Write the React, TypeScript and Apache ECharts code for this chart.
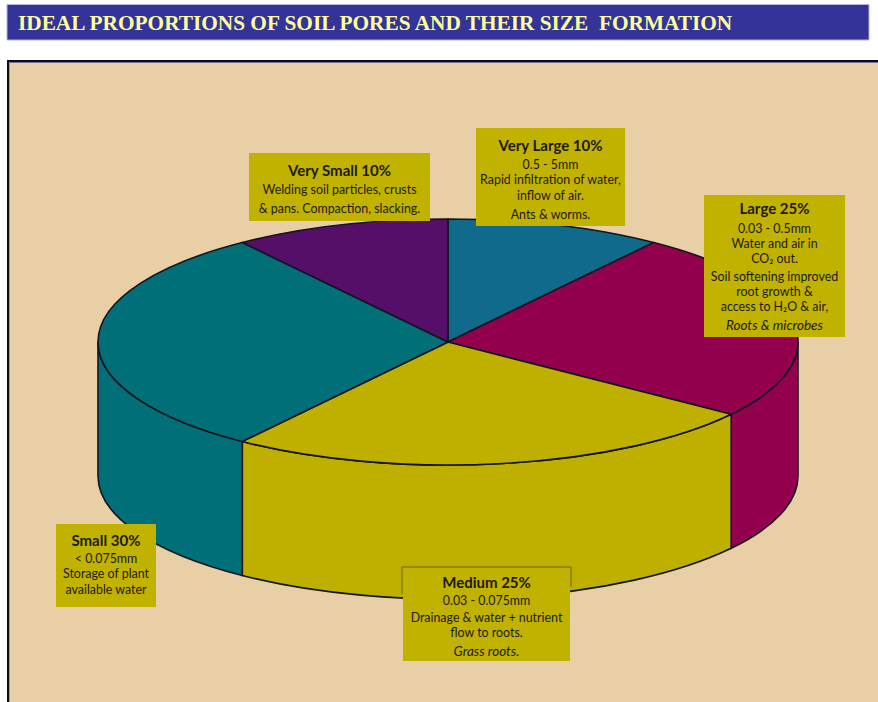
import React, { useEffect, useRef } from "react";
import * as echarts from "echarts";

const titleText = "IDEAL PROPORTIONS OF SOIL PORES AND THEIR SIZE  FORMATION";
const categories = ["Very Large", "Large", "Medium", "Small", "Very Small"];
const poreShares = [10, 25, 25, 30, 10];
const sliceColors = ["#0f6a8b", "#92004e", "#bfb000", "#006f78", "#560f68"];

const veryLargeLines = ["Very Large 10%", "0.5 - 5mm", "Rapid infiltration of water,", "inflow of air.", "Ants & worms."];
const largeLines = ["Large 25%", "0.03 - 0.5mm", "Water and air in", "CO₂ out.", "Soil softening improved", "root growth &", "access to H₂O & air,", "Roots & microbes"];
const mediumLines = ["Medium 25%", "0.03 - 0.075mm", "Drainage & water + nutrient", "flow to roots.", "Grass roots."];
const smallLines = ["Small 30%", "< 0.075mm", "Storage of plant", "available water"];
const verySmallLines = ["Very Small 10%", "Welding soil particles, crusts", "& pans. Compaction, slacking."];

const CX = 448, CY = 342, RX = 350, RY = 123, DEPTH = 134;
const FONT = "Lato, 'Open Sans', sans-serif";
const BOX = "#c2b200", INK = "#1a1a10", EDGE = "#14141e";

const total = poreShares.reduce((a, b) => a + b, 0);
const pt = (deg: number, dy = 0) => {
  const r = (deg * Math.PI) / 180;
  return [CX + RX * Math.sin(r), CY - RY * Math.cos(r) + dy];
};

const renderSlice = (params: any, api: any) => {
  const i = params.dataIndex;
  const share = api.value(0);
  const before = poreShares.slice(0, i).reduce((a, b) => a + b, 0);
  const a0 = (before / total) * 360;
  const a1 = a0 + (share / total) * 360;
  const p0 = pt(a0), p1 = pt(a1);
  const large = a1 - a0 > 180 ? 1 : 0;
  const children: any[] = [];
  const w0 = Math.max(a0, 90), w1 = Math.min(a1, 270);
  if (w1 > w0) {
    const q0 = pt(w0), q1 = pt(w1), r0 = pt(w0, DEPTH), r1 = pt(w1, DEPTH);
    children.push({
      type: "path",
      shape: {
        pathData: `M${q0[0]} ${q0[1]}A${RX} ${RY} 0 0 1 ${q1[0]} ${q1[1]}L${r1[0]} ${r1[1]}A${RX} ${RY} 0 0 0 ${r0[0]} ${r0[1]}Z`,
        layout: "none",
      },
      style: { fill: sliceColors[i], stroke: EDGE, lineWidth: 1.6 },
    });
  }
  children.push({
    type: "path",
    shape: {
      pathData: `M${CX} ${CY}L${p0[0]} ${p0[1]}A${RX} ${RY} 0 ${large} 1 ${p1[0]} ${p1[1]}Z`,
      layout: "none",
    },
    style: { fill: sliceColors[i], stroke: EDGE, lineWidth: 1.6 },
  });
  return { type: "group", children };
};

const labelBox = (x: number, y: number, w: number, h: number, lines: string[], ys: number[], italicLast: boolean) => {
  const out: any[] = [
    { type: "rect", z: 10, shape: { x, y, width: w, height: h }, style: { fill: BOX } },
  ];
  lines.forEach((t, k) => {
    const italic = italicLast && k === lines.length - 1;
    out.push({
      type: "text",
      z: 11,
      x: x + w / 2,
      y: ys[k],
      style: {
        text: t,
        fill: INK,
        align: "center",
        verticalAlign: "middle",
        font: `${k === 0 ? "bold" : italic ? "italic" : "normal"} ${k === 0 ? 15 : italic ? 13.5 : 12.4}px ${FONT}`,
      },
    });
  });
  return out;
};

export default function App() {
  const ref = useRef<HTMLDivElement>(null);
  useEffect(() => {
    const chart = echarts.init(ref.current!, null, { renderer: "svg" });
    chart.setOption({
      animation: false,
      backgroundColor: "#ffffff",
      title: {
        text: titleText,
        left: 18,
        top: 12,
        padding: 0,
        textStyle: { color: "#ffff99", fontFamily: "'Liberation Serif', serif", fontWeight: "bold", fontSize: 21.3 },
        z: 12,
      },
      graphic: {
        elements: [
          { type: "rect", z: 0, shape: { x: 7, y: 4.5, width: 862, height: 35.5 }, style: { fill: "#333399", stroke: "#b4b4dc", lineWidth: 1 } },
          { type: "rect", z: 0, shape: { x: 8, y: 60, width: 870, height: 642 }, style: { fill: "#e9cfa6" } },
          { type: "rect", z: 0, shape: { x: 7, y: 60, width: 871, height: 2 }, style: { fill: "#0b0b14" } },
          { type: "rect", z: 0, shape: { x: 7, y: 62, width: 871, height: 1 }, style: { fill: "#7a6f9e" } },
          { type: "rect", z: 0, shape: { x: 7, y: 60, width: 2, height: 642 }, style: { fill: "#0b0b14" } },
          { type: "rect", z: 0, shape: { x: 9, y: 62, width: 1, height: 640 }, style: { fill: "#a296b4" } },
          ...labelBox(249, 153, 181, 68, verySmallLines, [170, 189, 208], false),
          ...labelBox(476, 128, 149, 98, veryLargeLines, [145, 164, 179, 195, 214], false),
          ...labelBox(704, 195, 141, 142, largeLines, [208, 228, 243, 258, 276.5, 291.5, 306.5, 325], true),
          ...labelBox(56, 524, 100, 83, smallLines, [540, 558, 573, 589], false),
          ...labelBox(403, 567, 167, 94, mediumLines, [582, 600, 617.5, 632.5, 651], true),
          {
            type: "polyline",
            z: 11,
            shape: { points: [[402, 594], [402, 567], [571, 567], [571, 587]] },
            style: { fill: "none", stroke: "#6b6410", lineWidth: 1 },
          },
        ],
      },
      series: [
        {
          type: "custom",
          coordinateSystem: "none",
          z: 5,
          clip: false,
          renderItem: renderSlice,
          data: poreShares.map((v, i) => ({ name: categories[i], value: [v] })),
        },
      ],
    });
    return () => chart.dispose();
  }, []);
  return <div ref={ref} style={{ position: "fixed", left: 0, top: 0, width: 878, height: 702 }} />;
}
